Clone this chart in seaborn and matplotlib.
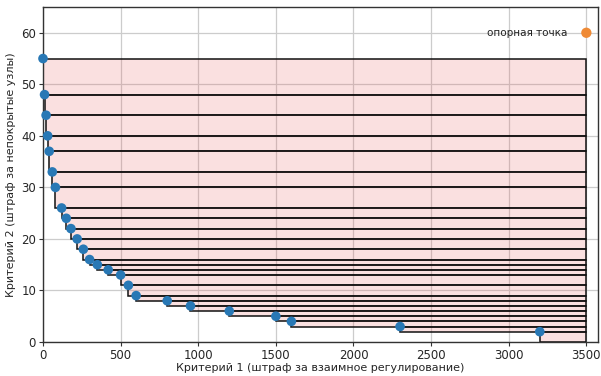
import matplotlib
matplotlib.use("Agg")
import matplotlib.pyplot as plt
import seaborn as sns
import pandas as pd
from matplotlib.patches import Rectangle

crit1 = [0, 10, 20, 30, 40, 60, 80, 120, 150, 180, 220, 260, 300, 350, 420, 500, 550, 600, 800, 950, 1200, 1500, 1600, 2300, 3200]
crit2 = [55, 48, 44, 40, 37, 33, 30, 26, 24, 22, 20, 18, 16, 15, 14, 13, 11, 9, 8, 7, 6, 5, 4, 3, 2]
ref_x = [3500]
ref_y = [60]
ref_label = "опорная точка"
xlabel = "Критерий 1 (штраф за взаимное регулирование)"
ylabel = "Критерий 2 (штраф за непокрытые узлы)"

sns.set_style("whitegrid")
plt.rcParams['font.family'] = ['DejaVu Sans']
plt.rcParams['axes.edgecolor'] = '#333333'

fig = plt.figure(figsize=(6.01, 3.76), dpi=100)
ax = fig.add_axes([43/601, 1-342/376, (598-43)/601, (342-7)/376])

# hypervolume rectangles
for i in range(len(crit1)):
    y_low = crit2[i+1] if i + 1 < len(crit2) else 0
    ax.add_patch(Rectangle((crit1[i], y_low), ref_x[0]-crit1[i], crit2[i]-y_low,
                           facecolor=(0.9, 0.4, 0.4, 0.2), edgecolor='#111111',
                           linewidth=1.1, zorder=2))

df = pd.DataFrame({"c1": crit1, "c2": crit2})
sns.scatterplot(data=df, x="c1", y="c2", ax=ax, color="#2878b5", s=48,
                edgecolor="none", zorder=4, clip_on=False)
sns.scatterplot(x=ref_x, y=ref_y, ax=ax, color="#ef8a35", s=55,
                edgecolor="none", zorder=4)
ax.text(ref_x[0]-120, ref_y[0], ref_label, ha='right', va='center', fontsize=7.5, color='#222222')

ax.set_xlim(0, 3575)
ax.set_ylim(0, 65)
ax.set_xticks([0, 500, 1000, 1500, 2000, 2500, 3000, 3500])
ax.set_yticks([0, 10, 20, 30, 40, 50, 60])
ax.tick_params(labelsize=8.5, length=3, pad=2, color='#333333', left=True, bottom=True)
ax.set_xlabel(xlabel, fontsize=8, labelpad=1)
ax.set_ylabel(ylabel, fontsize=8, labelpad=4)
ax.grid(True, color='#cccccc', linewidth=0.9)
for s in ax.spines.values():
    s.set_color('#333333')
    s.set_linewidth(1.0)

fig.savefig("out.png", dpi=100)
